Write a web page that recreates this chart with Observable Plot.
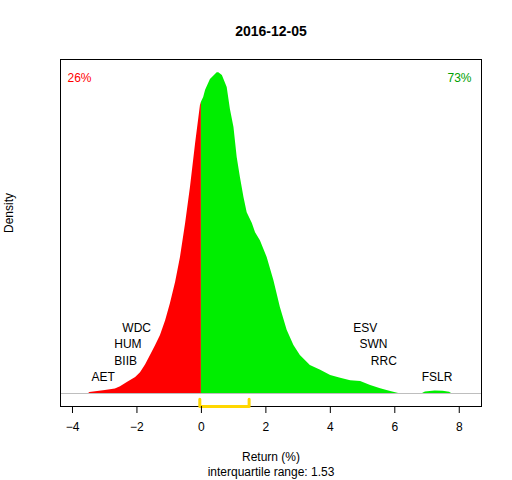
<!DOCTYPE html>
<html><head><meta charset="utf-8">
<script src="https://cdn.jsdelivr.net/npm/d3@7"></script>
<script src="https://cdn.jsdelivr.net/npm/@observablehq/plot@0.6"></script>
<style>body{margin:0;background:#fff} svg{font-family:"Liberation Sans",Arial,sans-serif}</style>
</head><body><div id="chart"></div>
<script>
// Density curve of returns (%)
const returnPts = [-3.5,-3.46,-2.98,-2.67,-2.51,-2.30,-2.04,-1.89,-1.73,-1.58,-1.42,-1.27,-1.11,-0.96,-0.80,-0.65,-0.49,-0.34,-0.18,-0.03,0,
  0.07,0.13,0.28,0.49,0.54,0.65,0.80,0.90,1.01,1.11,1.21,1.32,1.42,1.58,1.68,1.83,2.04,2.25,2.45,2.66,2.87,3.07,3.38,3.70,4.01,4.32,4.63,4.94,5.25,5.56,5.87,6.12,
  6.86,6.95,7.25,7.5,7.7,7.76];
const densityPts = [0,0.0013,0.0038,0.0056,0.0084,0.0138,0.020,0.026,0.036,0.0475,0.060,0.0725,0.091,0.1125,0.139,0.170,0.2125,0.2575,0.3125,0.360,0.364,
  0.370,0.379,0.3925,0.401,0.401,0.3975,0.3825,0.355,0.3325,0.295,0.270,0.245,0.226,0.2125,0.201,0.191,0.170,0.141,0.1075,0.079,0.060,0.0475,0.035,0.029,0.0225,0.019,0.016,0.015,0.010,0.006,0.0025,0,
  0,0.002,0.0031,0.0029,0.0015,0];

// labelled stocks
const leftNames = ["AET","BIIB","HUM","WDC"];
const leftReturns = [-3.05,-2.35,-2.28,-2.01];
const rightNames = ["FSLR","RRC","SWN","ESV"];
const rightReturns = [7.31,5.66,5.34,5.08];

const title = "2016-12-05";
const pctDown = "26%";
const pctUp = "73%";
const q1 = -0.05, q3 = 1.48;
const iqrText = "interquartile range: 1.53";
const xTicks = [-4,-2,0,2,4,6,8];

const curve = returnPts.map((r,i)=>({r, d: densityPts[i]}));
const yMin = -0.01625, yMax = 0.4175;
const labelStep = 0.0205;
const labels = [
  ...leftNames.map((n,i)=>({n, r: leftReturns[i], y: (i+1)*labelStep})),
  ...rightNames.map((n,i)=>({n, r: rightReturns[i], y: (i+1)*labelStep}))
];
const tickTop = -0.0071;
const bracket = [{r:q1,d:tickTop},{r:q1,d:yMin},{r:q3,d:yMin},{r:q3,d:tickTop}];

const chart = Plot.plot({
  width: 512, height: 480,
  marginLeft: 60, marginRight: 31, marginTop: 59, marginBottom: 74,
  style: {fontFamily: '"Liberation Sans",Arial,sans-serif', fontSize: "12px", background: "white", color: "black"},
  x: {domain: [-4.372, 8.69], range: [60, 481]},
  y: {domain: [yMin, yMax], axis: null},
  marks: [
    Plot.ruleY([0], {stroke: "#BEBEBE"}),
    Plot.areaY(curve.filter(p=>p.r<=0), {x:"r", y:"d", fill:"#FF0000"}),
    Plot.areaY(curve.filter(p=>p.r>=0), {x:"r", y:"d", fill:"#00EE00"}),
    Plot.frame({stroke:"black"}),
    Plot.line(bracket, {x:"r", y:"d", stroke:"#FFD700", strokeWidth:3}),
    Plot.text(labels, {x:"r", y:"y", text:"n", fill:"black", fontSize:12, textAnchor:"middle"}),
    Plot.axisX({ticks: xTicks, tickSize: 7, tickPadding: 9, fontSize: 12, label: null}),
    Plot.text([title], {frameAnchor:"top", dy:-28, fontWeight:"bold", fontSize:14, lineAnchor:"middle"}),
    Plot.text([pctDown], {frameAnchor:"top-left", dx:7, dy:19, fill:"#FF0000", fontSize:12, textAnchor:"start", lineAnchor:"middle"}),
    Plot.text([pctUp], {frameAnchor:"top-right", dx:-10, dy:19, fill:"#00A000", fontSize:12, textAnchor:"end", lineAnchor:"middle"}),
    Plot.text(["Return (%)"], {frameAnchor:"bottom", dy:51, fontSize:12, lineAnchor:"middle"}),
    Plot.text([iqrText], {frameAnchor:"bottom", dy:66, fontSize:12, lineAnchor:"middle"}),
    Plot.text(["Density"], {frameAnchor:"left", dx:-51, rotate:-90, fontSize:12, lineAnchor:"middle"})
  ]
});
document.getElementById("chart").appendChild(chart);
</script></body></html>
